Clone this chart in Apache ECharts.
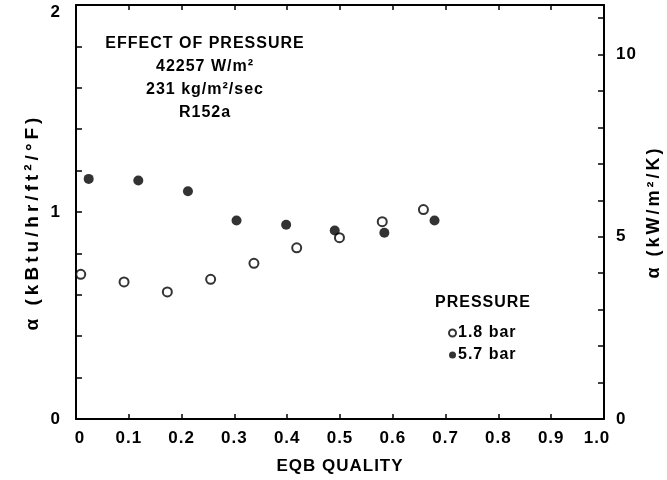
<!DOCTYPE html>
<html>
<head>
<meta charset="utf-8">
<script src="https://cdn.jsdelivr.net/npm/echarts@6/dist/echarts.min.js"></script>
<style>
html,body{margin:0;padding:0;background:#fff;}
#chart{width:667px;height:480px;}
</style>
</head>
<body>
<div id="chart"></div>
<script>
// ---- data ----
const qualityLow = [0.009, 0.091, 0.173, 0.255, 0.337, 0.418, 0.499, 0.580, 0.658];
const alphaLow   = [0.699, 0.662, 0.614, 0.675, 0.752, 0.827, 0.876, 0.953, 1.012];
const qualityHigh = [0.024, 0.118, 0.212, 0.304, 0.398, 0.490, 0.584, 0.679];
const alphaHigh   = [1.160, 1.152, 1.100, 0.959, 0.938, 0.911, 0.900, 0.959];
const seriesNames = ['1.8 bar', '5.7 bar'];
const annotationLines = ['EFFECT OF PRESSURE', '42257 W/m²', '231 kg/m²/sec', 'R152a'];
const legendTitle = 'PRESSURE';
const xTickLabels = ['0','0.1','0.2','0.3','0.4','0.5','0.6','0.7','0.8','0.9','1.0'];
const leftLabels = ['0','1','2'];
const rightLabels = ['0','5','10'];
const leftName = 'α (kBtu/hr/ft²/°F)';
const rightName = 'α (kW/m²/K)';
const xName = 'EQB QUALITY';
const conv = 5.678; // kBtu/hr/ft2/F -> kW/m2/K

// letter spacing helper: a pseudo family "spN" in the font string sets N px tracking
(function(){
  const P = CanvasRenderingContext2D.prototype, f = P.fillText;
  P.fillText = function(t, x, y, w){
    const m = /sp(\d+)/.exec(this.font || '');
    if ('letterSpacing' in this) this.letterSpacing = m ? m[1] + 'px' : '0px';
    return w === undefined ? f.call(this, t, x, y) : f.call(this, t, x, y, w);
  };
})();
const fam = n => '"Liberation Sans", sp' + n;
const T = (size, sp) => ({color:'#000', fontFamily: fam(sp), fontWeight:'bold', fontSize:size});

const chart = echarts.init(document.getElementById('chart'), null, {renderer:'canvas'});
const pair = (xs, ys) => xs.map((x,i)=>[x, ys[i]]);

const option = {
  backgroundColor:'#fff',
  animation:false,
  grid:{left:76, right:63, top:5, bottom:60, containLabel:false},
  xAxis:[{
    type:'value', min:0, max:1, interval:0.1, position:'bottom',
    name: xName, nameLocation:'middle', nameGap:39,
    nameTextStyle: T(17, 1),
    axisLine:{show:true, onZero:false, lineStyle:{color:'#000', width:2}},
    axisTick:{show:true, inside:true, length:5, lineStyle:{color:'#000', width:1.5}},
    axisLabel: Object.assign(T(17, 1), {margin:11,
      formatter: v => { const i = Math.round(v*10);
        if (i === 0) return '{l|' + xTickLabels[0] + '}';
        if (i === 10) return '{r|' + xTickLabels[10] + '}';
        return xTickLabels[i] !== undefined ? xTickLabels[i] : ''; },
      rich:{ l: Object.assign(T(17,1), {padding:[0,0,0,8]}), r: Object.assign(T(17,1), {padding:[0,14,0,0]}) }
    }),
    splitLine:{show:false}
  },{
    type:'value', min:0, max:1, interval:0.1, position:'top',
    axisLine:{show:true, onZero:false, lineStyle:{color:'#000', width:2}},
    axisTick:{show:true, inside:true, length:5, lineStyle:{color:'#000', width:1.5}},
    axisLabel:{show:false}, splitLine:{show:false}
  }],
  yAxis:[{
    type:'value', min:0, max:2, interval:0.2, position:'left',
    axisLine:{show:true, onZero:false, lineStyle:{color:'#000', width:2}},
    axisTick:{show:true, inside:true, length:6, lineStyle:{color:'#000', width:1.5}},
    axisLabel: Object.assign(T(17, 0), {margin:16,
      formatter: v => { const r = Math.round(v);
        if (Math.abs(v-r) > 1e-6 || leftLabels[r] === undefined) return '';
        return r === 2 ? '{t|' + leftLabels[r] + '}' : leftLabels[r]; },
      rich:{ t: Object.assign(T(17,0), {padding:[14,0,0,0]}) }
    }),
    splitLine:{show:false}
  },{
    type:'value', min:0, max:2*conv, interval:1, position:'right',
    axisLine:{show:true, onZero:false, lineStyle:{color:'#000', width:2}},
    axisTick:{show:true, inside:true, length:6, lineStyle:{color:'#000', width:1.5}},
    axisLabel: Object.assign(T(17, 1), {margin:12,
      formatter: v => { const r = Math.round(v); if (Math.abs(v-r)>1e-6) return '';
        const i = rightLabels.indexOf(String(r)); return i>=0 ? rightLabels[i] : ''; }}),
    splitLine:{show:false}
  }],
  legend:{
    orient:'vertical', left:448, top:325, itemGap:6, padding:0,
    itemWidth:7, itemHeight:7, icon:'circle',
    textStyle: Object.assign(T(16, 1), {padding:[0,0,0,-3]}),
    data: seriesNames
  },
  graphic: annotationLines.map((t,i)=>({
      type:'text', silent:true, x:205, y:44 + i*23,
      style:{text:t, textAlign:'center', textVerticalAlign:'middle',
        font:'bold 16px ' + fam(1), fill:'#000'}
    })).concat([
    {type:'text', silent:true, x:435, y:303,
      style:{text:legendTitle, textAlign:'left', textVerticalAlign:'middle',
        font:'bold 16px ' + fam(1), fill:'#000'}},
    {type:'text', silent:true, x:33, y:222, rotation:Math.PI/2,
      style:{text:leftName, textAlign:'center', textVerticalAlign:'middle',
        font:'bold 19px ' + fam(4), fill:'#000'}},
    {type:'text', silent:true, x:654, y:212, rotation:Math.PI/2,
      style:{text:rightName, textAlign:'center', textVerticalAlign:'middle',
        font:'bold 18px ' + fam(3), fill:'#000'}}
  ]),
  series:[{
    name: seriesNames[0], type:'scatter', xAxisIndex:0, yAxisIndex:0,
    symbol:'circle', symbolSize:9,
    itemStyle:{color:'#fff', borderColor:'#000', borderWidth:2},
    data: pair(qualityLow, alphaLow)
  },{
    name: seriesNames[1], type:'scatter', xAxisIndex:0, yAxisIndex:0,
    symbol:'circle', symbolSize:10,
    itemStyle:{color:'#000', borderColor:'#000', borderWidth:0},
    data: pair(qualityHigh, alphaHigh)
  }]
};
chart.setOption(option);
</script>
</body>
</html>
